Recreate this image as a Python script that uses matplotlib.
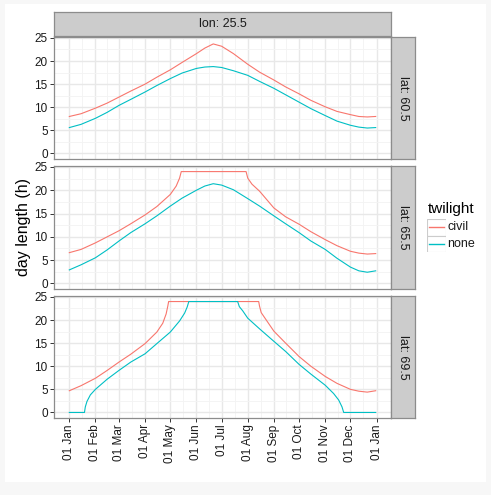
import numpy as np
import matplotlib
matplotlib.use("Agg")
import matplotlib.pyplot as plt
import matplotlib.dates as mdates
from matplotlib.patches import Rectangle

plt.rcParams['font.family'] = ['Liberation Sans', 'DejaVu Sans']

# facet labels
lon_label = "lon: 25.5"
lat_labels = ["lat: 60.5", "lat: 65.5", "lat: 69.5"]
twilight_names = ["civil", "none"]
colors = {"civil": "#F8766D", "none": "#00BFC4"}

# day of year -> day length (h)
days_605 = [1, 15, 32, 46, 60, 74, 91, 105, 121, 135, 152, 162, 172, 182, 196, 213, 227, 244, 258, 274, 288, 305, 319, 335, 345, 355, 365]
none_605 = [5.6, 6.3, 7.6, 8.9, 10.4, 11.7, 13.3, 14.7, 16.2, 17.4, 18.4, 18.7, 18.8, 18.6, 17.9, 16.9, 15.6, 14.1, 12.7, 11.1, 9.7, 8.2, 7.0, 6.1, 5.7, 5.5, 5.6]
civil_605 = [8.0, 8.6, 9.8, 10.9, 12.2, 13.5, 15.0, 16.5, 18.1, 19.7, 21.6, 22.8, 23.7, 23.2, 21.6, 19.3, 17.6, 15.9, 14.4, 12.9, 11.5, 10.1, 9.1, 8.4, 8.0, 7.9, 8.0]

days_655_none = [1, 15, 32, 46, 60, 74, 91, 105, 121, 135, 152, 162, 172, 182, 196, 213, 227, 244, 258, 274, 288, 305, 319, 335, 345, 355, 365]
none_655 = [2.9, 4.0, 5.5, 7.2, 9.1, 10.9, 12.8, 14.5, 16.6, 18.3, 20.0, 20.9, 21.4, 21.1, 20.1, 18.2, 16.6, 14.5, 12.8, 10.9, 9.1, 7.3, 5.4, 3.5, 2.7, 2.4, 2.7]
days_655_civil = [1, 15, 32, 46, 60, 74, 91, 105, 121, 128, 132, 134, 211, 213, 218, 227, 244, 258, 274, 288, 305, 319, 335, 345, 355, 365]
civil_655 = [6.6, 7.3, 8.7, 10.0, 11.3, 12.8, 14.7, 16.5, 19.1, 20.9, 22.6, 24.0, 24.0, 22.6, 21.3, 19.8, 16.2, 14.3, 12.7, 11.1, 9.4, 8.1, 6.9, 6.5, 6.3, 6.4]

days_695_none = [1, 19, 20, 22, 26, 32, 46, 60, 74, 91, 105, 121, 132, 138, 141, 143, 201, 203, 207, 213, 227, 244, 258, 274, 288, 305, 315, 321, 325, 327, 365]
none_695 = [0, 0, 1.2, 2.4, 3.8, 5.0, 7.2, 9.1, 10.9, 12.7, 14.9, 17.4, 19.8, 21.5, 22.8, 24.0, 24.0, 22.9, 22.0, 20.4, 18.1, 15.4, 13.2, 10.4, 8.3, 5.9, 4.1, 2.7, 1.2, 0, 0]
days_695_civil = [1, 15, 32, 46, 60, 74, 91, 105, 112, 116, 118, 119, 226, 227, 229, 235, 244, 258, 274, 288, 305, 319, 335, 345, 355, 365]
civil_695 = [4.7, 5.8, 7.4, 9.1, 10.9, 12.6, 14.9, 17.4, 19.3, 21.3, 23.0, 24.0, 24.0, 23.0, 21.6, 20.0, 17.6, 15.0, 12.1, 10.0, 7.8, 6.3, 5.0, 4.6, 4.4, 4.7]

series = [
    {"civil": (days_605, civil_605), "none": (days_605, none_605)},
    {"civil": (days_655_civil, civil_655), "none": (days_655_none, none_655)},
    {"civil": (days_695_civil, civil_695), "none": (days_695_none, none_695)},
]

y_ticks = [0, 5, 10, 15, 20, 25]

W, H = 491, 495
start = np.datetime64("2014-01-01")


def box(x0, y0, x1, y1):
    return [x0 / W, 1 - y1 / H, (x1 - x0) / W, (y1 - y0) / H]


def to_dates(d):
    return (start + np.array(d) - 1).astype("datetime64[D]").astype(object)


fig = plt.figure(figsize=(W / 100, H / 100), dpi=100)
fig.patch.set_facecolor("#F7F7F7")
fig.add_artist(Rectangle((5 / W, 1 - 482 / H), 481 / W, 478 / H, transform=fig.transFigure,
                         facecolor="white", edgecolor="none", zorder=-5))

border = "#8C8C8C"
month_ticks = list(np.arange(np.datetime64("2014-01"), np.datetime64("2015-02"),
                             np.timedelta64(1, "M")).astype("datetime64[D]").astype(object))
mt = mdates.date2num(month_ticks)
minor_x = (mt[:-1] + mt[1:]) / 2
x0 = mdates.date2num(to_dates([1]))[0]
x1 = mdates.date2num(to_dates([365]))[0]
pad = (x1 - x0) * 0.05

panels = [(37, 159), (166, 289), (296, 418)]
for i, (top, bot) in enumerate(panels):
    ax = fig.add_axes(box(54, top, 391, bot))
    ax.set_xlim(x0 - pad, x1 + pad)
    ax.set_ylim(-1.2, 25.2)
    ax.set_yticks(y_ticks)
    ax.set_yticks(np.array(y_ticks[:-1]) + 2.5, minor=True)
    ax.set_xticks(mt)
    ax.set_xticks(minor_x, minor=True)
    ax.grid(which="major", color="#E8E8E8", linewidth=1.0)
    ax.grid(which="minor", color="#F3F3F3", linewidth=0.6)
    ax.set_axisbelow(True)
    for name in twilight_names:
        d, v = series[i][name]
        ax.plot(to_dates(d), v, color=colors[name], linewidth=0.8)
    for s in ax.spines.values():
        s.set_color(border)
        s.set_linewidth(0.9)
    ax.tick_params(which="minor", length=0)
    ax.tick_params(axis="y", which="major", length=3, width=0.7, color="#333333",
                   labelsize=8.5, labelcolor="#1A1A1A", pad=1.5)
    if i < 2:
        ax.tick_params(axis="x", which="major", length=0, labelbottom=False)
    else:
        ax.xaxis.set_major_formatter(mdates.DateFormatter("%d %b"))
        ax.tick_params(axis="x", which="major", length=3, width=0.7, color="#333333",
                       labelsize=8.5, labelcolor="#1A1A1A", labelrotation=90, pad=1.5)

    sx = fig.add_axes(box(391, top, 415, bot))
    sx.set_facecolor("#CCCCCC")
    sx.set_xticks([])
    sx.set_yticks([])
    for s in sx.spines.values():
        s.set_color(border)
        s.set_linewidth(0.9)
    sx.text(0.5, 0.5, lat_labels[i], rotation=270, ha="center", va="center",
            fontsize=9, color="#1A1A1A", transform=sx.transAxes)

st = fig.add_axes(box(54, 12, 391, 36))
st.set_facecolor("#CCCCCC")
st.set_xticks([])
st.set_yticks([])
for s in st.spines.values():
    s.set_color(border)
    s.set_linewidth(0.9)
st.text(0.5, 0.5, lon_label, ha="center", va="center", fontsize=9, color="#1A1A1A",
        transform=st.transAxes)

fig.text(24 / W, 1 - 227 / H, "day length (h)", rotation=90, ha="center", va="center",
         fontsize=11.5, color="black")

# legend
fig.text(428 / W, 1 - 209 / H, "twilight", ha="left", va="center", fontsize=11, color="black")
lg = fig.add_axes(box(427, 219, 446, 252))
lg.set_xlim(0, 1)
lg.set_ylim(2, 0)
lg.axis("off")
for k, name in enumerate(twilight_names):
    lg.add_patch(Rectangle((0, k), 1, 1, facecolor="white", edgecolor="#CCCCCC", linewidth=0.8))
    lg.plot([0.08, 0.92], [k + 0.5, k + 0.5], color=colors[name], linewidth=1.0)
    fig.text(447 / W, 1 - (227.5 + 16.5 * k) / H, name, ha="left", va="center",
             fontsize=9, color="#1A1A1A")

fig.savefig("out.png", dpi=100, facecolor=fig.get_facecolor())
